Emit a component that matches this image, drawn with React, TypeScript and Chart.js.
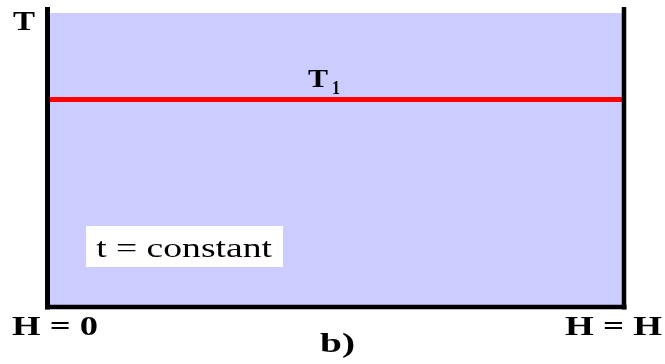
import React, { useEffect, useRef } from "react";
import { Chart, registerables } from "chart.js";

Chart.register(...registerables);

// Data
const hPositions = [0, 1]; // H = 0 ... H = H
const t1Values = [0.706, 0.706]; // constant temperature T1
const axisLabelY = "T";
const axisLabelLeft = "H = 0";
const axisLabelRight = "H = H";
const seriesLabel = "T";
const seriesSub = "1";
const noteText = "t = constant";
const captionText = "b)";
const noteBox = { x0: 0.067, x1: 0.4085, y0: 0.136, y1: 0.2755 };

const SERIF = '"Liberation Serif", "DejaVu Serif", serif';

function drawStretched(
  ctx: CanvasRenderingContext2D,
  text: string,
  font: string,
  x0: number,
  x1: number,
  baseline: number,
  color = "#000"
) {
  ctx.save();
  ctx.font = font;
  ctx.fillStyle = color;
  ctx.textBaseline = "alphabetic";
  ctx.textAlign = "left";
  const w = ctx.measureText(text).width;
  const s = (x1 - x0) / w;
  ctx.translate(x0, baseline);
  ctx.scale(s, 1);
  ctx.fillText(text, 0, 0);
  ctx.restore();
}

const decorPlugin = {
  id: "decor",
  beforeDatasetsDraw(chart: any) {
    const { ctx, chartArea, scales } = chart;
    const { left, right, top, bottom } = chartArea;
    ctx.save();
    ctx.fillStyle = "#CCCCFF";
    ctx.fillRect(left, top, right - left, bottom - top);
    // white note box
    const bx0 = scales.x.getPixelForValue(noteBox.x0);
    const bx1 = scales.x.getPixelForValue(noteBox.x1);
    const by0 = scales.y.getPixelForValue(noteBox.y1);
    const by1 = scales.y.getPixelForValue(noteBox.y0);
    ctx.fillStyle = "#FFFFFF";
    ctx.fillRect(bx0, by0, bx1 - bx0, by1 - by0);
    ctx.restore();
    drawStretched(ctx, noteText, `27px ${SERIF}`, bx0 + 10, bx1 - 11, by0 + 31);
  },
  afterDatasetsDraw(chart: any) {
    const { ctx, chartArea, scales } = chart;
    const { left, right, top, bottom } = chartArea;
    ctx.save();
    ctx.strokeStyle = "#000";
    ctx.lineCap = "butt";
    ctx.lineWidth = 5;
    ctx.beginPath();
    ctx.moveTo(left, top - 6);
    ctx.lineTo(left, bottom + 2.5);
    ctx.stroke();
    ctx.lineWidth = 4.5;
    ctx.beginPath();
    ctx.moveTo(right, top - 6);
    ctx.lineTo(right, bottom + 2.5);
    ctx.stroke();
    ctx.lineWidth = 4.5;
    ctx.beginPath();
    ctx.moveTo(left - 2.5, bottom);
    ctx.lineTo(right + 2.5, bottom);
    ctx.stroke();
    ctx.restore();

    const bold = `bold 27px ${SERIF}`;
    drawStretched(ctx, axisLabelY, bold, 13, 35, 30);
    drawStretched(ctx, axisLabelLeft, bold, 12, 98, 335);
    drawStretched(ctx, axisLabelRight, bold, 565, 662, 335);
    drawStretched(ctx, captionText, bold, 320, 355, 352);

    const yT1 = scales.y.getPixelForValue(t1Values[0]);
    drawStretched(ctx, seriesLabel, `bold 26px ${SERIF}`, 308, 328, yT1 - 12.5);
    drawStretched(ctx, seriesSub, `bold 18px ${SERIF}`, 332, 340, yT1 - 5);
  },
};

export default function App() {
  const ref = useRef<HTMLCanvasElement | null>(null);
  useEffect(() => {
    if (!ref.current) return;
    const chart = new Chart(ref.current, {
      type: "scatter",
      data: {
        datasets: [
          {
            label: "T1",
            data: hPositions.map((x, i) => ({ x, y: t1Values[i] })),
            showLine: true,
            borderColor: "#FF0000",
            borderWidth: 5,
            pointRadius: 0,
            backgroundColor: "#FF0000",
          },
        ],
      },
      options: {
        responsive: false,
        animation: false,
        events: [],
        layout: { padding: { left: 47.5, right: 41, top: 13, bottom: 57 } },
        plugins: { legend: { display: false }, tooltip: { enabled: false } },
        scales: {
          x: { type: "linear", min: 0, max: 1, display: false },
          y: { type: "linear", min: 0, max: 1, display: false },
        },
      },
      plugins: [decorPlugin],
    });
    return () => chart.destroy();
  }, []);
  return (
    <div style={{ position: "fixed", left: 0, top: 0, width: 665, height: 364, background: "#fff" }}>
      <canvas ref={ref} width={665} height={364} style={{ display: "block" }} />
    </div>
  );
}
